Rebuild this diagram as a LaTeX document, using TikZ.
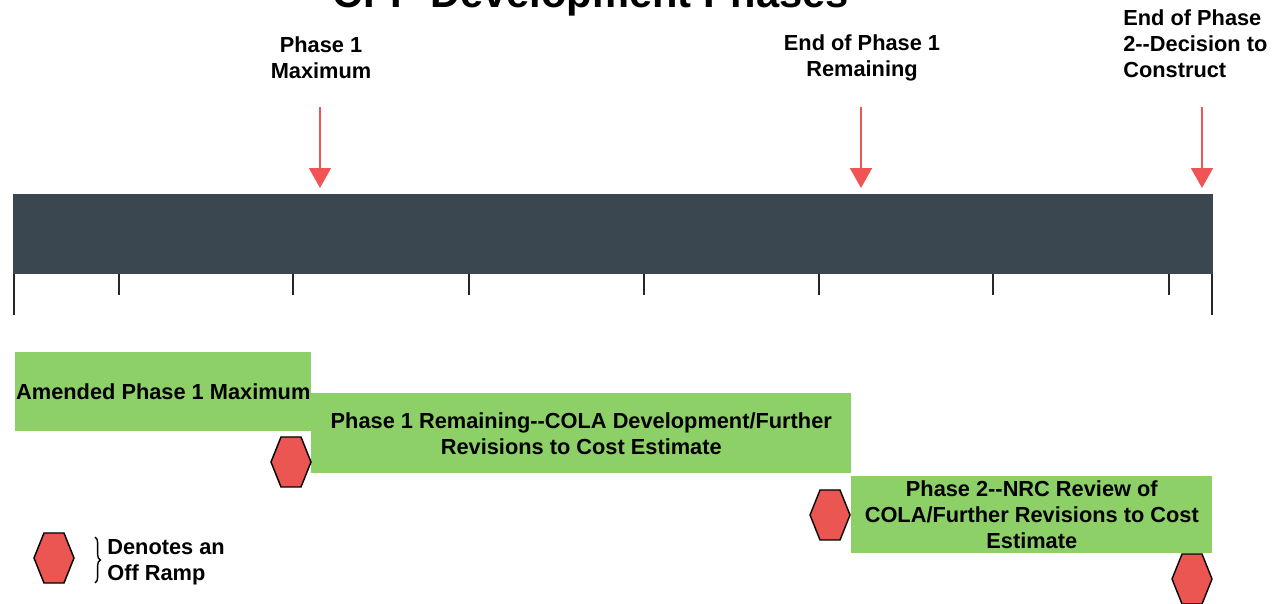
\documentclass[tikz,border=0pt]{standalone}
\usepackage{fontspec}
\setmainfont{Liberation Sans}
\usetikzlibrary{arrows.meta,decorations.pathreplacing}

\definecolor{barslate}{RGB}{58,71,80}
\definecolor{markred}{RGB}{240,84,84}
\definecolor{phasegreen}{RGB}{142,208,104}
\definecolor{rampred}{RGB}{236,86,82}

\tikzset{
  lbl/.style={font=\fontsize{12.4}{14.8}\selectfont\bfseries, align=center, inner sep=0pt},
  phasebox/.style={lbl, fill=phasegreen, anchor=north west},
  marker/.style={draw=markred, line width=1.1pt, -{Triangle[width=0.44cm,length=0.4cm,fill=markred]}},
  tickline/.style={draw=black!85, line width=1pt},
  offramp/.pic={\filldraw[fill=rampred, draw=black, line width=0.8pt] (-20,0) -- (-10,-25) -- (10,-25) -- (20,0) -- (10,25) -- (-10,25) -- cycle;}
}

\begin{document}
\begin{tikzpicture}[x=0.02cm, y=-0.02cm]
\useasboundingbox (0,0) rectangle (1282,604);

% Title (cut at the top of the page)
\node[font=\fontsize{23.7}{28}\selectfont\bfseries, anchor=base] (title) at (591,8) {CPP Development Phases};

% The time bar
\node[fill=barslate, inner sep=0pt, minimum width=24cm, minimum height=1.6cm, anchor=north west] (bar) at (13,194) {};

% Ticks under the bar
\foreach \tx in {119,293,469,644,819,993,1169}
  \draw[tickline] (\tx,274) -- (\tx,295);
\draw[tickline] (14,274) -- (14,315);
\draw[tickline] (1212,274) -- (1212,315);

% Milestone labels and arrows
\node[lbl] (max) at (321,58) {Phase 1\\Maximum};
\node[lbl] (rem) at (862,58) {End of Phase 1\\Remaining};
\node[lbl, align=left, anchor=west] (build) at (1123,44) {End of Phase\\2-{}-Decision to\\Construct};
\coordinate (t1) at (320,107);
\coordinate (t2) at (861,107);
\coordinate (t3) at (1202,107);
\draw[marker, shorten >=0.12cm] (t1) -- (t1 |- bar.north);
\draw[marker, shorten >=0.12cm] (t2) -- (t2 |- bar.north);
\draw[marker, shorten >=0.12cm] (t3) -- (t3 |- bar.north);

% Phase boxes
\node[phasebox, minimum width=5.92cm, minimum height=1.58cm] (amend) at (15,352) {Amended Phase 1 Maximum};
\node[phasebox, minimum width=10.8cm, minimum height=1.6cm] (cola) at (311,393) {Phase 1 Remaining-{}-COLA Development/Further\\Revisions to Cost Estimate};
\node[phasebox, minimum width=7.22cm, minimum height=1.54cm] (nrc) at (851,476) {Phase 2-{}-NRC Review of\\COLA/Further Revisions to Cost\\Estimate};

% Off ramps
\pic at (291,462) {offramp};
\pic at (830,515) {offramp};
\pic at (1192,579) {offramp};

% Legend
\pic at (54,558) {offramp};
\draw[line width=0.8pt, decorate, decoration={brace, amplitude=3pt}] (95,537) -- (95,583);
\node[lbl, align=left, anchor=west] (legend) at (107,562) {Denotes an\\Off Ramp};
\end{tikzpicture}
\end{document}
